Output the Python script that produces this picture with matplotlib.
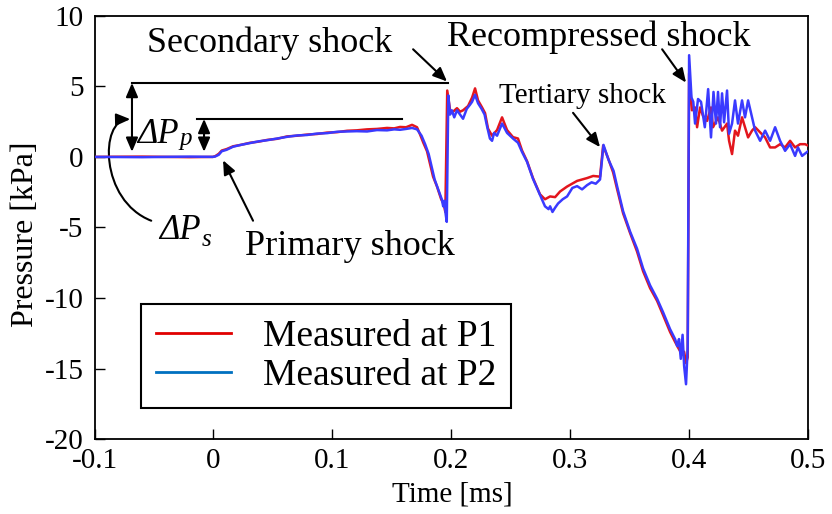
import matplotlib
matplotlib.use("Agg")
import matplotlib.pyplot as plt
from matplotlib.lines import Line2D
from matplotlib.patches import FancyArrowPatch
from matplotlib.path import Path

plt.rcParams['font.family'] = ['Liberation Serif', 'DejaVu Serif']
plt.rcParams['axes.unicode_minus'] = False

# pressure traces, time in ms, pressure in kPa
t_p1 = [-0.100, -0.060, -0.020, -0.0005, 0.0015, 0.0045, 0.0070, 0.0110, 0.0165, 0.0230,
        0.0308, 0.0380, 0.0451, 0.0535, 0.0619, 0.0705, 0.0787, 0.0870, 0.0955, 0.1040,
        0.1124, 0.1205, 0.1292, 0.1375, 0.1460, 0.1520, 0.1569, 0.1620, 0.1670, 0.1712,
        0.1737, 0.1765, 0.1796, 0.1847, 0.1880, 0.1915, 0.1935, 0.1950, 0.1966, 0.1990,
        0.2015, 0.2048, 0.2074, 0.2099, 0.2141, 0.2175, 0.2200, 0.2225, 0.2259, 0.2284,
        0.2309, 0.2343, 0.2385, 0.2427, 0.2469, 0.2519, 0.2561, 0.2595, 0.2637, 0.2687,
        0.2746, 0.2788, 0.2831, 0.2873, 0.2915, 0.2974, 0.3058, 0.3142, 0.3193, 0.3251,
        0.3277, 0.3319, 0.3361, 0.3395, 0.3445, 0.3504, 0.3562, 0.3613, 0.3672, 0.3731,
        0.3781, 0.3840, 0.3882, 0.3907, 0.3941, 0.3958, 0.3974, 0.3988, 0.4000, 0.4024,
        0.4050, 0.4067, 0.4092, 0.4117, 0.4151, 0.4184, 0.4201, 0.4243, 0.4277, 0.4319,
        0.4336, 0.4361, 0.4386, 0.4411, 0.4445, 0.4470, 0.4496, 0.4529, 0.4555, 0.4597,
        0.4639, 0.4681, 0.4723, 0.4765, 0.4807, 0.4849, 0.4891, 0.4933, 0.4975, 0.5000]
p_p1 = [0.00, 0.02, -0.02, 0.00, 0.05, 0.22, 0.45, 0.55, 0.75, 0.85,
        1.00, 1.08, 1.20, 1.28, 1.45, 1.50, 1.58, 1.62, 1.72, 1.75,
        1.85, 1.88, 1.95, 1.98, 2.05, 2.02, 2.12, 2.10, 2.27, 2.10,
        1.60, 1.00, 0.40, -1.40, -2.10, -3.00, -3.30, -3.90, 4.70, 3.30,
        3.20, 3.45, 3.20, 3.30, 3.60, 4.20, 4.85, 4.00, 3.50, 3.10,
        2.00, 1.50, 1.90, 2.80, 1.90, 1.40, 1.30, 0.45, -0.30, -1.50,
        -2.65, -3.00, -2.80, -2.85, -2.45, -2.10, -1.70, -1.50, -1.35, -1.40,
        0.80, -0.10, -1.10, -2.30, -4.00, -5.40, -6.70, -8.10, -9.30, -10.20,
        -11.20, -12.40, -13.10, -13.50, -14.00, -13.80, -14.60, -14.20, 5.90, 3.30,
        3.50, 2.10, 3.50, 2.90, 2.55, 3.50, 2.10, 2.80, 1.86, 2.36,
        1.14, 0.20, 1.86, 1.50, 2.80, 2.10, 1.38, 1.86, 2.10, 1.74,
        1.38, 0.67, 0.67, 0.90, 0.67, 1.14, 0.67, 0.90, 0.90, 0.80]

t_p2 = [-0.100, -0.060, -0.020, -0.0005, 0.0015, 0.0045, 0.0070, 0.0110, 0.0165, 0.0230,
        0.0308, 0.0380, 0.0451, 0.0535, 0.0619, 0.0705, 0.0787, 0.0870, 0.0955, 0.1040,
        0.1124, 0.1205, 0.1292, 0.1375, 0.1460, 0.1520, 0.1569, 0.1620, 0.1670, 0.1712,
        0.1750, 0.1780, 0.1810, 0.1860, 0.1890, 0.1920, 0.1932, 0.1942, 0.1952, 0.1962,
        0.1975, 0.1990, 0.2005, 0.2025, 0.2048, 0.2074, 0.2099, 0.2130, 0.2158, 0.2175,
        0.2200, 0.2225, 0.2255, 0.2280, 0.2300, 0.2325, 0.2343, 0.2360, 0.2385, 0.2427,
        0.2469, 0.2519, 0.2561, 0.2595, 0.2637, 0.2687, 0.2746, 0.2788, 0.2818, 0.2831,
        0.2851, 0.2873, 0.2898, 0.2937, 0.2974, 0.3018, 0.3058, 0.3100, 0.3142, 0.3180,
        0.3215, 0.3251, 0.3280, 0.3322, 0.3365, 0.3395, 0.3445, 0.3504, 0.3562, 0.3613,
        0.3672, 0.3731, 0.3781, 0.3840, 0.3882, 0.3900, 0.3915, 0.3930, 0.3945, 0.3958,
        0.3974, 0.3988, 0.4000, 0.4020, 0.4035, 0.4050, 0.4075, 0.4100, 0.4132, 0.4160,
        0.4184, 0.4205, 0.4226, 0.4243, 0.4260, 0.4277, 0.4294, 0.4319, 0.4336, 0.4361,
        0.4386, 0.4411, 0.4445, 0.4470, 0.4496, 0.4529, 0.4555, 0.4597, 0.4639, 0.4681,
        0.4723, 0.4765, 0.4807, 0.4849, 0.4891, 0.4915, 0.4950, 0.5000]
p_p2 = [0.00, -0.02, 0.02, 0.00, 0.03, 0.15, 0.40, 0.50, 0.72, 0.85,
        0.98, 1.10, 1.18, 1.30, 1.42, 1.52, 1.55, 1.65, 1.68, 1.78,
        1.80, 1.82, 1.80, 1.90, 1.88, 1.95, 1.92, 1.98, 2.05, 1.95,
        1.50, 0.90, 0.20, -1.60, -2.30, -3.00, -3.50, -3.10, -4.00, -4.60,
        4.35, 3.00, 3.30, 2.80, 3.30, 3.00, 2.70, 3.40, 3.70, 3.90,
        4.40, 3.80, 3.40, 3.00, 2.20, 1.30, 1.14, 1.70, 1.50, 2.36,
        1.70, 1.30, 1.00, 0.35, -0.35, -1.55, -2.70, -3.50, -3.70, -3.50,
        -3.90, -3.60, -3.30, -3.00, -2.80, -2.20, -2.07, -2.30, -2.00, -1.80,
        -1.90, -1.60, 0.85, -0.20, -1.00, -2.10, -3.85, -5.30, -6.50, -7.90,
        -9.10, -10.05, -11.00, -12.20, -12.90, -13.40, -12.90, -14.30, -12.60, -14.80,
        -16.10, -13.50, 7.20, 4.20, 3.90, 2.36, 4.10, 3.90, 2.10, 4.80,
        1.38, 4.60, 2.36, 4.60, 2.10, 4.50, 2.45, 4.70, 1.64, 2.36,
        4.00, 2.36, 4.00, 2.80, 4.00, 2.80, 1.86, 1.14, 1.86, 1.14,
        2.10, 1.14, 0.43, 0.90, 0.07, 0.67, 0.07, 0.40]

xticks = [-0.1, 0, 0.1, 0.2, 0.3, 0.4, 0.5]
xticklabels = ['-0.1', '0', '0.1', '0.2', '0.3', '0.4', '0.5']
yticks = [-20, -15, -10, -5, 0, 5, 10]

red = '#e3161d'
blue = '#3a3aff'

fig = plt.figure(figsize=(8.32, 5.14), dpi=100)
ax = fig.add_axes([0.1136, 0.1453, 0.8576, 0.8242])

ax.plot(t_p1, p_p1, color=red, lw=1.8, zorder=3)
ax.plot(t_p2, p_p2, color=blue, lw=1.8, zorder=4)

ax.set_xlim(-0.1, 0.5)
ax.set_ylim(-20, 10)
ax.set_xticks(xticks)
ax.set_xticklabels(xticklabels)
ax.set_yticks(yticks)
ax.tick_params(direction='in', length=7, width=1.0, labelsize=21, top=False, right=False)
ax.tick_params(axis='y', pad=8)
ax.tick_params(axis='x', pad=6.5)
for s in ax.spines.values():
    s.set_linewidth(1.3)

ax.set_xlabel('Time [ms]', fontsize=21)
ax.set_ylabel('Pressure [kPa]', fontsize=23)
ax.xaxis.set_label_coords(0.502, -0.100)
ax.yaxis.set_label_coords(-0.076, 0.485)

# reference levels and pressure jumps
ax.plot([-0.0685, 0.1970], [5.24, 5.24], color='k', lw=1.5)
ax.plot([-0.0138, 0.1586], [2.69, 2.69], color='k', lw=1.5)
dbl = dict(arrowstyle='<|-|>,head_length=0.7,head_width=0.3', color='k', lw=1.5,
           mutation_scale=12, shrinkA=0, shrinkB=0)
ax.annotate('', xy=(-0.0685, 0.36), xytext=(-0.0685, 5.24), arrowprops=dbl)
ax.annotate('', xy=(-0.0079, 0.36), xytext=(-0.0079, 2.69), arrowprops=dbl)

ax.text(-0.0645, 0.96, 'ΔP', fontsize=25, style='italic', ha='left', va='baseline')
ax.text(-0.0285, 0.84, 'p', fontsize=18, style='italic', ha='left', va='baseline')
ax.text(-0.0460, -5.83, 'ΔP', fontsize=25, style='italic', ha='left', va='baseline')
ax.text(-0.0100, -6.30, 's', fontsize=18, style='italic', ha='left', va='baseline')

curve = Path([(-0.0523, -4.52), (-0.0958, -3.09), (-0.0958, 2.62), (-0.0699, 2.67)],
             [Path.MOVETO, Path.CURVE4, Path.CURVE4, Path.CURVE4])
ax.add_patch(FancyArrowPatch(path=curve, arrowstyle='-|>,head_length=0.7,head_width=0.3',
                             mutation_scale=12, color='k', lw=1.5))

arr = dict(arrowstyle='-|>,head_length=0.7,head_width=0.3', color='k', lw=1.5,
           mutation_scale=12, shrinkA=0, shrinkB=0)
ax.annotate('', xy=(0.1964, 5.34), xytext=(0.1679, 7.62), arrowprops=arr)
ax.annotate('', xy=(0.3974, 5.26), xytext=(0.3773, 7.62), arrowprops=arr)
ax.annotate('', xy=(0.3251, 0.69), xytext=(0.3024, 3.12), arrowprops=arr)
ax.annotate('', xy=(0.0081, -0.24), xytext=(0.0333, -4.52), arrowprops=arr)

ax.text(0.0476, 7.40, 'Secondary shock', fontsize=26, ha='center', va='baseline')
ax.text(0.3239, 7.86, 'Recompressed shock', fontsize=26, ha='center', va='baseline')
ax.text(0.3104, 3.81, 'Tertiary shock', fontsize=21, ha='center', va='baseline')
ax.text(0.1149, -6.97, 'Primary shock', fontsize=26, ha='center', va='baseline')

handles = [Line2D([], [], color='#e00000', lw=2),
           Line2D([], [], color='#0070c0', lw=2)]
leg = ax.legend(handles, ['Measured at P1', 'Measured at P2'], loc='upper left',
                bbox_to_anchor=(0.0652, 0.319), fontsize=27, frameon=True, fancybox=False,
                borderpad=0.4, labelspacing=0.12, handlelength=2.0, handletextpad=0.85,
                borderaxespad=0)
leg.get_frame().set_edgecolor('k')
leg.get_frame().set_linewidth(1.5)
leg.get_frame().set_alpha(1)

fig.savefig('out.png', dpi=100)
